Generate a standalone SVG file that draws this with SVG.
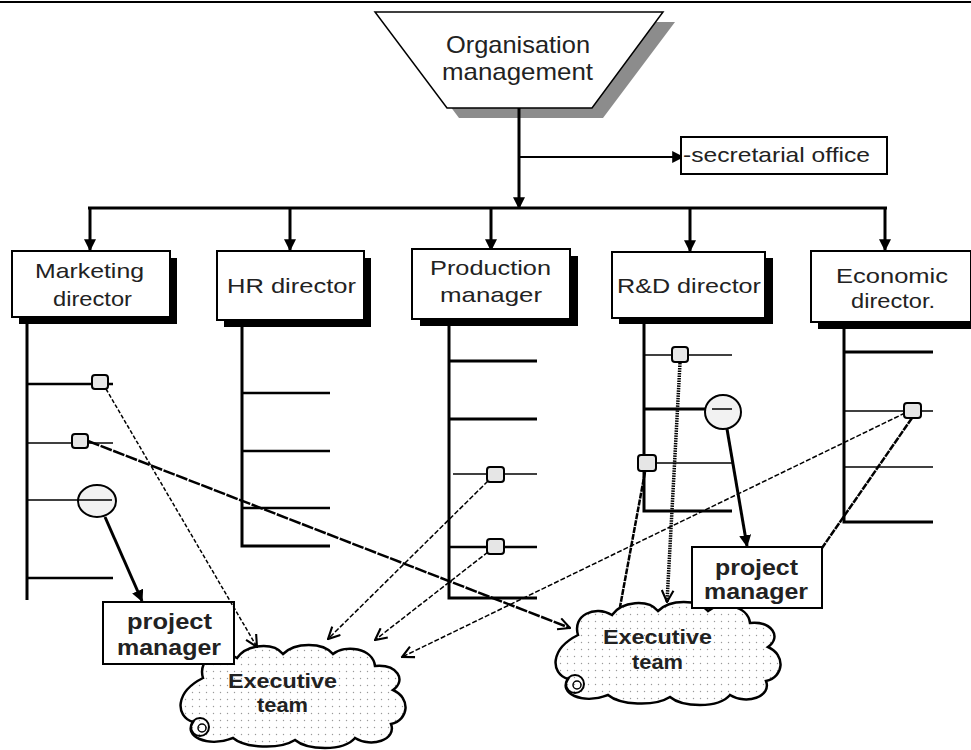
<svg xmlns="http://www.w3.org/2000/svg" width="971" height="750" viewBox="0 0 971 750">
<style>
text{font-family:"Liberation Sans",Arial,sans-serif;fill:#222}
.t{font-size:21px}
.b{font-size:21px;font-weight:bold}
.box{fill:#fff;stroke:#000;stroke-width:2}
.sh{fill:#000}
.ln{stroke:#000;fill:none}
.lad{stroke:#000;stroke-width:3;fill:none}
.rung{stroke:#000;stroke-width:2.5}
.thin{stroke:#000;stroke-width:1.5}
.sq{fill:#e6e6e6;stroke:#000;stroke-width:2}
.ci{fill:#f2f2f2;stroke:#000;stroke-width:2}
.cloud{fill:url(#dots);stroke:#000;stroke-width:2.5}
</style>
<defs>
<marker id="fb" viewBox="0 0 10 10" refX="9" refY="5" markerWidth="12" markerHeight="12" markerUnits="userSpaceOnUse" orient="auto">
<path d="M0,0 L10,5 L0,10 Z" fill="#000"/>
</marker>
<marker id="ov" viewBox="0 0 12 12" refX="11" refY="6" markerWidth="14" markerHeight="14" markerUnits="userSpaceOnUse" orient="auto">
<path d="M1,1 L11,6 L1,11" fill="none" stroke="#000" stroke-width="1.8"/>
</marker>
<pattern id="dots" width="7" height="7" patternUnits="userSpaceOnUse">
<rect width="7" height="7" fill="#fff"/>
<circle cx="3.5" cy="3.5" r="0.7" fill="#999"/>
</pattern>
<path id="cl" d="M28,38 C22,18 45,8 62,18 C72,4 98,2 108,14 C120,2 148,2 158,14 C170,4 198,8 200,26 C222,24 232,40 218,50 C236,58 234,80 216,84 C222,100 196,108 180,98 C168,112 132,110 120,100 C104,110 70,108 58,98 C32,108 8,96 18,82 C0,76 0,52 28,38 Z"/>
</defs>
<rect width="971" height="750" fill="#fff"/>
<line x1="0" y1="2" x2="971" y2="2" stroke="#000" stroke-width="2"/>

<g id="organisation-management">
<polygon points="387,22 675,22 603,118 459,118" fill="#8c8c8c"/>
<polygon points="375,12 663,12 592,108 447,108" fill="#fff" stroke="#000" stroke-width="1.5"/>
<text x="446" y="53" style="font-size:24px" textLength="144" lengthAdjust="spacingAndGlyphs">Organisation</text>
<text x="442" y="80" style="font-size:24px" textLength="151" lengthAdjust="spacingAndGlyphs">management</text>
</g>

<g id="connectors">
<line class="ln" x1="519" y1="108" x2="519" y2="208" stroke-width="3" marker-end="url(#fb)"/>
<line class="ln" x1="519" y1="157" x2="683" y2="157" stroke-width="2" marker-end="url(#fb)"/>
<line class="ln" x1="88" y1="208" x2="887" y2="208" stroke-width="3"/>
<line class="ln" x1="90" y1="208" x2="90" y2="250" stroke-width="3" marker-end="url(#fb)"/>
<line class="ln" x1="290" y1="208" x2="290" y2="250" stroke-width="3" marker-end="url(#fb)"/>
<line class="ln" x1="491" y1="208" x2="491" y2="250" stroke-width="3" marker-end="url(#fb)"/>
<line class="ln" x1="690" y1="208" x2="690" y2="251" stroke-width="3" marker-end="url(#fb)"/>
<line class="ln" x1="885" y1="208" x2="885" y2="250" stroke-width="3" marker-end="url(#fb)"/>
</g>

<g id="secretarial-office">
<rect class="box" x="681" y="137" width="206" height="37"/>
<text x="683" y="162" style="font-size:21px" textLength="187" lengthAdjust="spacingAndGlyphs">-secretarial office</text>
</g>

<g id="marketing-director">
<rect class="sh" x="19" y="258" width="158" height="66"/>
<rect class="box" x="12" y="251" width="158" height="66"/>
<text class="t" x="35" y="278" textLength="109" lengthAdjust="spacingAndGlyphs">Marketing</text>
<text class="t" x="53" y="306" textLength="79" lengthAdjust="spacingAndGlyphs">director</text>
</g>
<g id="hr-director">
<rect class="sh" x="224" y="258" width="147" height="69"/>
<rect class="box" x="217" y="251" width="147" height="69"/>
<text class="t" x="227" y="293" textLength="129" lengthAdjust="spacingAndGlyphs">HR director</text>
</g>
<g id="production-manager">
<rect class="sh" x="420" y="256" width="158" height="70"/>
<rect class="box" x="412" y="249" width="158" height="70"/>
<text class="t" x="430" y="275" textLength="121" lengthAdjust="spacingAndGlyphs">Production</text>
<text class="t" x="440" y="302" textLength="102" lengthAdjust="spacingAndGlyphs">manager</text>
</g>
<g id="rd-director">
<rect class="sh" x="619" y="258" width="154" height="66"/>
<rect class="box" x="612" y="252" width="153" height="66"/>
<text class="t" x="617" y="293" textLength="144" lengthAdjust="spacingAndGlyphs">R&amp;D director</text>
</g>
<g id="economic-director">
<rect class="sh" x="818" y="258" width="160" height="71"/>
<rect class="box" x="811" y="251" width="160" height="71"/>
<text class="t" x="836" y="283" textLength="112" lengthAdjust="spacingAndGlyphs">Economic</text>
<text class="t" x="851" y="308" textLength="84" lengthAdjust="spacingAndGlyphs">director.</text>
</g>

<g id="ladders">
<path class="lad" d="M27,317 V600"/>
<line class="rung" x1="27" y1="384" x2="113" y2="384"/>
<line class="thin" x1="27" y1="443" x2="113" y2="443"/>
<line class="rung" x1="27" y1="578" x2="113" y2="578"/>
<path class="lad" d="M242,320 V546 H330"/>
<line class="rung" x1="242" y1="393" x2="330" y2="393"/>
<line class="rung" x1="242" y1="451" x2="330" y2="451"/>
<line class="rung" x1="242" y1="508" x2="330" y2="508"/>
<path class="lad" d="M449,326 V598 H537"/>
<line class="lad" x1="449" y1="361" x2="537" y2="361"/>
<line class="lad" x1="449" y1="419" x2="537" y2="419"/>
<line class="thin" x1="453" y1="474" x2="537" y2="474"/>
<line class="rung" x1="449" y1="547" x2="537" y2="547"/>
<path class="lad" d="M644,318 V511 H732"/>
<line class="thin" x1="644" y1="355" x2="732" y2="355"/>
<line class="lad" x1="644" y1="409" x2="712" y2="409"/>
<line class="thin" x1="644" y1="463" x2="732" y2="463"/>
<path class="lad" d="M844,329 V522 H933"/>
<line class="lad" x1="844" y1="352" x2="933" y2="352"/>
<line class="thin" x1="844" y1="411" x2="933" y2="411"/>
<line class="thin" x1="844" y1="467" x2="933" y2="467"/>
</g>

<g id="executive-team-1">
<use href="#cl" class="cloud" transform="translate(175,640)"/>
<circle cx="200" cy="727" r="9" fill="none" stroke="#000" stroke-width="2"/>
<circle cx="202" cy="728" r="4" fill="none" stroke="#000" stroke-width="1.5"/>
<text class="b" x="228" y="688" textLength="109" lengthAdjust="spacingAndGlyphs">Executive</text>
<text class="b" x="257" y="712" textLength="51" lengthAdjust="spacingAndGlyphs">team</text>
</g>
<g id="executive-team-2">
<use href="#cl" class="cloud" transform="translate(550,597)"/>
<circle cx="575" cy="684" r="9" fill="none" stroke="#000" stroke-width="2"/>
<circle cx="577" cy="685" r="4" fill="none" stroke="#000" stroke-width="1.5"/>
<text class="b" x="603" y="644" textLength="109" lengthAdjust="spacingAndGlyphs">Executive</text>
<text class="b" x="632" y="669" textLength="51" lengthAdjust="spacingAndGlyphs">team</text>
</g>

<g id="project-manager-1">
<rect class="box" x="103" y="602" width="131" height="62" stroke-width="2.5"/>
<text class="b" x="127" y="629" style="font-size:22px" textLength="85" lengthAdjust="spacingAndGlyphs">project</text>
<text class="b" x="117" y="655" style="font-size:22px" textLength="104" lengthAdjust="spacingAndGlyphs">manager</text>
</g>
<g id="project-manager-2">
<rect class="box" x="692" y="547" width="130" height="61" stroke-width="2.5"/>
<text class="b" x="715" y="575" style="font-size:22px" textLength="83" lengthAdjust="spacingAndGlyphs">project</text>
<text class="b" x="704" y="599" style="font-size:22px" textLength="104" lengthAdjust="spacingAndGlyphs">manager</text>
</g>

<g id="links">
<line class="ln" x1="106" y1="389" x2="257" y2="647" stroke-width="1.5" stroke-dasharray="4,2" marker-end="url(#ov)"/>
<line class="ln" x1="88" y1="441" x2="570" y2="628" stroke-width="2.5" stroke-dasharray="12,1.5" marker-end="url(#ov)"/>
<line class="ln" x1="105" y1="517" x2="142" y2="601" stroke-width="3" marker-end="url(#fb)"/>
<line class="ln" x1="488" y1="481" x2="328" y2="639" stroke-width="1.5" stroke-dasharray="5,2" marker-end="url(#ov)"/>
<line class="ln" x1="488" y1="552" x2="375" y2="640" stroke-width="1.5" stroke-dasharray="5,2" marker-end="url(#ov)"/>
<line class="ln" x1="905" y1="413" x2="402" y2="657" stroke-width="1.5" stroke-dasharray="5,2" marker-end="url(#ov)"/>
<line class="ln" x1="680" y1="363" x2="667" y2="602" stroke-width="3.5" stroke-dasharray="1.5,1" marker-end="url(#ov)"/>
<line class="ln" x1="645" y1="472" x2="620" y2="607" stroke-width="2.5" stroke-dasharray="6,1"/>
<line class="ln" x1="727" y1="429" x2="747" y2="546" stroke-width="3" marker-end="url(#fb)"/>
<line class="ln" x1="912" y1="418" x2="822" y2="548" stroke-width="2.5" stroke-dasharray="7,1"/>
</g>

<g id="markers">
<rect class="sq" x="92" y="375" width="16" height="14" rx="3"/>
<rect class="sq" x="72" y="434" width="16" height="14" rx="3"/>
<ellipse class="ci" cx="97" cy="501" rx="19" ry="16"/>
<line class="thin" x1="27" y1="500" x2="112" y2="500"/>
<rect class="sq" x="487" y="467" width="17" height="15" rx="3"/>
<rect class="sq" x="487" y="539" width="17" height="15" rx="3"/>
<rect class="sq" x="672" y="347" width="16" height="15" rx="3"/>
<ellipse class="ci" cx="723" cy="412" rx="18" ry="17"/>
<line class="thin" x1="712" y1="409" x2="732" y2="409"/>
<rect class="sq" x="638" y="455" width="18" height="16" rx="3"/>
<rect class="sq" x="904" y="403" width="17" height="15" rx="3"/>
</g>
</svg>
